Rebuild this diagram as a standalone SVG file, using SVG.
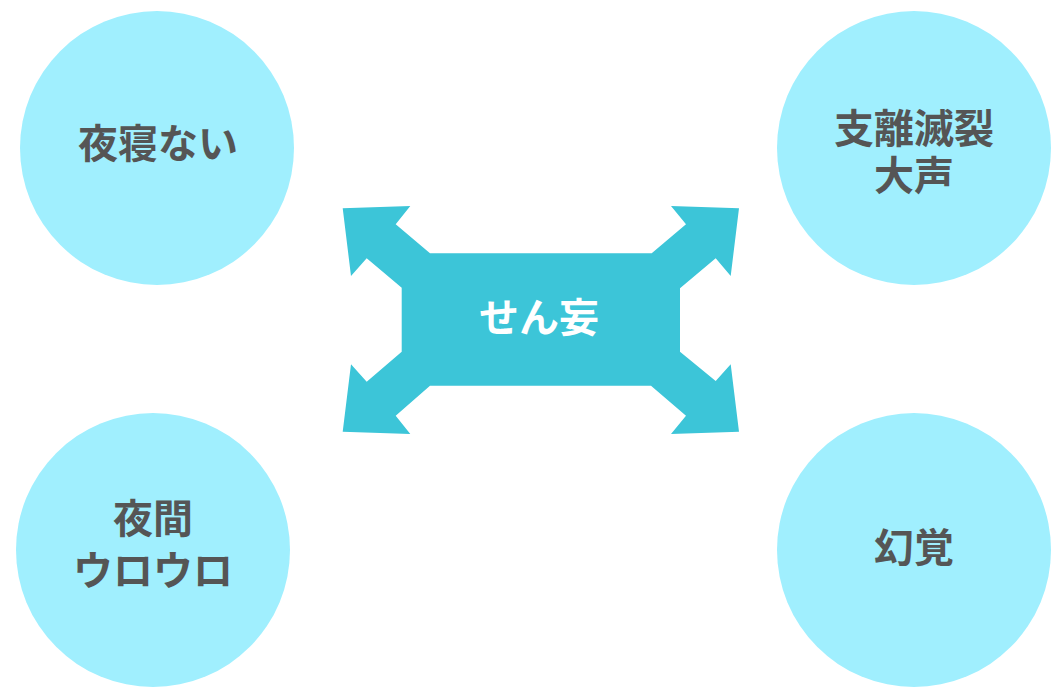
<svg xmlns="http://www.w3.org/2000/svg" width="1060" height="693" viewBox="0 0 1060 693">
<style>
.c{fill:#a0effe}
.t{font-family:"Noto Sans CJK JP",sans-serif;font-weight:bold;font-size:40px;fill:#555555;text-anchor:middle;dominant-baseline:central}
.w{fill:#ffffff}
</style>
<rect width="1060" height="693" fill="#ffffff"/>
<g id="connectors">
<polygon fill="#3cc5d8" points="342.7,208.3 410.3,206 395.7,224.3 430,253.3 651.7,253.3 686,224.3 671,206 739,208.3 730.7,276 715.7,258.3 680,288.3 680,351.7 715.7,381 730.7,364.3 739,431.7 671,434 686,415.7 651,385.7 430,385.7 395.7,415.7 410.3,434 342.7,431.7 351,364.3 366.7,381.7 401.7,351.7 401.7,287.7 366.7,258.3 351,276"/>
</g>
<g id="center"><text class="t w" x="539" y="315" font-size="39">せん妄</text></g>
<g id="n1"><circle class="c" cx="157" cy="148" r="137"/><text class="t" x="158" y="141">夜寝ない</text></g>
<g id="n2"><circle class="c" cx="914" cy="148" r="137"/><text class="t" x="914" y="126">支離滅裂</text><text class="t" x="914" y="173">大声</text></g>
<g id="n3"><circle class="c" cx="153" cy="550" r="137"/><text class="t" x="153" y="516">夜間</text><text class="t" x="153" y="568">ウロウロ</text></g>
<g id="n4"><circle class="c" cx="914" cy="550" r="137"/><text class="t" x="914" y="545">幻覚</text></g>
</svg>
